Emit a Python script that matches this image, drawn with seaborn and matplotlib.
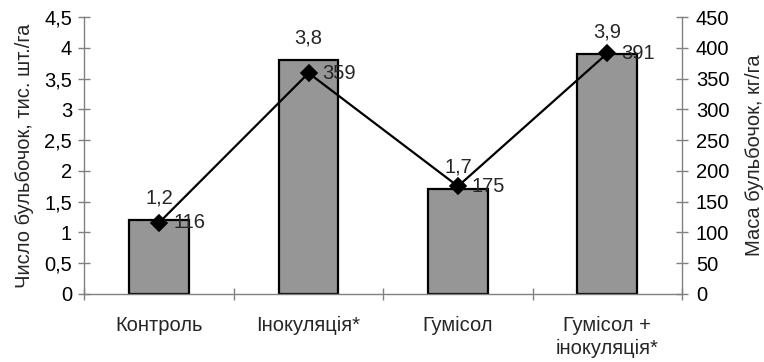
import matplotlib
matplotlib.use("Agg")
import matplotlib.pyplot as plt
import seaborn as sns
import numpy as np
import pandas as pd
from matplotlib.ticker import FixedLocator, FuncFormatter

categories = ["Контроль", "Інокуляція*", "Гумісол", "Гумісол +\nінокуляція*"]
count_values = [1.2, 3.8, 1.7, 3.9]      # тис. шт./га (left axis)
mass_values = [116, 359, 175, 391]       # кг/га (right axis)
count_labels = ["1,2", "3,8", "1,7", "3,9"]
mass_labels = ["116", "359", "175", "391"]

sns.set_theme(style="white")
plt.rcParams["font.family"] = ["Liberation Sans", "DejaVu Sans"]
FS = 14.5

df = pd.DataFrame({"cat": categories, "count": count_values, "mass": mass_values})

fig = plt.figure(figsize=(7.64, 3.62), dpi=100)
ax = fig.add_axes([0.1106, 0.188, 0.7821, 0.765])

sns.barplot(data=df, x="cat", y="count", ax=ax, color="#969696", width=0.4,
            edgecolor="black", linewidth=1.6, saturation=1)
ax.set_ylim(0, 4.5)
ax.set_xlim(-0.5, 3.5)

ax2 = ax.twinx()
sns.pointplot(data=df, x="cat", y="mass", ax=ax2, color="black", markers="D",
              markersize=8.5, linewidth=1.6, linestyles="-")
ax2.set_ylim(0, 450)
ax2.set_xlim(-0.5, 3.5)

gray = "#808080"
for a in (ax, ax2):
    for s in a.spines.values():
        s.set_visible(False)
ax.spines["left"].set_visible(True)
ax.spines["bottom"].set_visible(True)
ax2.spines["right"].set_visible(True)
for s in (ax.spines["left"], ax.spines["bottom"], ax2.spines["right"]):
    s.set_color(gray)
    s.set_linewidth(1.0)

comma = FuncFormatter(lambda v, p: (f"{v:g}").replace(".", ","))
ax.yaxis.set_major_locator(FixedLocator(np.arange(0, 4.51, 0.5)))
ax.yaxis.set_major_formatter(comma)
ax2.yaxis.set_major_locator(FixedLocator(np.arange(0, 451, 50)))
ax2.yaxis.set_major_formatter(FuncFormatter(lambda v, p: f"{v:g}"))

ax.tick_params(axis="y", which="major", direction="inout", length=8, width=1,
               color=gray, labelsize=FS, labelcolor="black", left=True, pad=5)
ax2.tick_params(axis="y", which="major", direction="inout", length=8, width=1,
                color=gray, labelsize=FS, labelcolor="black", right=True, pad=6)

ax.set_xticks(range(len(categories)))
ax.set_xticklabels(categories, fontsize=FS, linespacing=1.25)
ax.xaxis.set_minor_locator(FixedLocator([-0.5, 0.5, 1.5, 2.5, 3.5]))
ax.tick_params(axis="x", which="major", length=0, pad=16, labelsize=FS)
ax.tick_params(axis="x", which="minor", direction="inout", length=9, width=1,
               color=gray, bottom=True)
ax2.tick_params(axis="x", which="both", length=0, labelbottom=False)

ax.set_xlabel("")
ax.set_ylabel("Число бульбочок, тис. шт./га", fontsize=FS, labelpad=7)
ax2.set_xlabel("")
ax2.set_ylabel("Маса бульбочок, кг/га", fontsize=FS, labelpad=11)

for i, (v, lab) in enumerate(zip(count_values, count_labels)):
    ax.annotate(lab, (i, v), xytext=(0, 9), textcoords="offset points",
                ha="center", va="bottom", fontsize=FS)
for i, (v, lab) in enumerate(zip(mass_values, mass_labels)):
    ax2.annotate(lab, (i, v), xytext=(10, 0), textcoords="offset points",
                 ha="left", va="center", fontsize=FS)

fig.savefig("out.png", dpi=100)
